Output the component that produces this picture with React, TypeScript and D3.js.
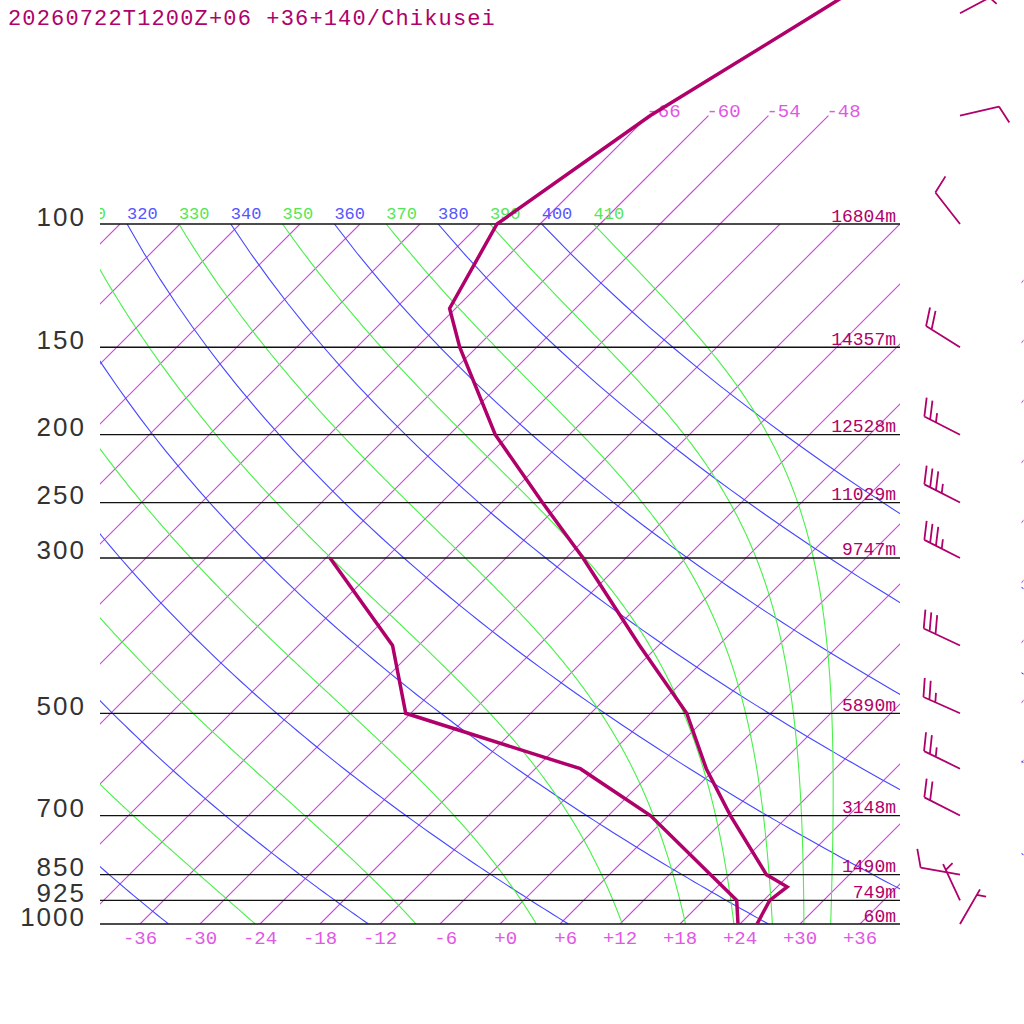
import React, { useEffect, useRef } from "react";
import * as d3 from "d3";

const title = "20260722T1200Z+06 +36+140/Chikusei";

// isobars and their geopotential heights
const isobars = [100, 150, 200, 250, 300, 500, 700, 850, 925, 1000];
const isobarHeights = [16804, 14357, 12528, 11029, 9747, 5890, 3148, 1490, 749, 60];

// temperature profile (hPa, degC)
const tempP = [1000, 925, 885, 850, 700, 600, 500, 400, 300, 250, 200, 150, 132, 100, 70, 50, 30];
const tempC = [25.7, 24.6, 25.0, 21.7, 12.2, 5.1, -2.4, -13.9, -28.3, -37.9, -49.4, -61.7, -66.6, -70.3, -65.8, -59.4, -50.0];

// dew point profile
const dewP = [1000, 925, 850, 700, 600, 500, 400, 300];
const dewC = [23.8, 21.3, 16.1, 4.2, -7.5, -30.5, -38.6, -53.6];

// wind (direction deg, speed kt)
const windP = [1000, 925, 850, 700, 600, 500, 400, 300, 250, 200, 150, 100, 70, 50];
const windDir = [30, 335, 280, 297, 296, 294, 295, 297, 297, 297, 302, 322, 77, 62];
const windKt = [5, 5, 10, 20, 25, 25, 30, 35, 35, 25, 20, 10, 10, 5];

// background lines
const isotherms = [-108, -102, -96, -90, -84, -78, -72, -66, -60, -54, -48, -42, -36, -30, -24, -18, -12, -6, 0, 6, 12, 18, 24, 30, 36];
const topIsotherms = [-66, -60, -54, -48];
const dryThetas = [240, 260, 280, 300, 320, 340, 360, 380, 400];
const moistThetas = [230, 250, 270, 290, 310, 330, 350, 370, 390, 410];
const tempTicks = [-36, -30, -24, -18, -12, -6, 0, 6, 12, 18, 24, 30, 36];

const C_PROF = "rgb(176,0,106)";
const C_ISO = "rgb(204,68,221)";
const C_ISO_TXT = "rgb(224,88,228)";
const C_DRY = "rgb(70,70,255)";
const C_MOIST = "rgb(72,240,72)";

const Rd = 287.04, Cp = 1005.7, Lv = 2.501e6, EPS = 0.622, KAPPA = Rd / Cp;

function satMix(p: number, tk: number) {
  const tc = tk - 273.15;
  const es = 6.112 * Math.exp((17.67 * tc) / (tc + 243.5));
  return (EPS * es) / (p - es);
}

function moistLapse(p: number, tk: number) {
  const rs = satMix(p, tk);
  return (Rd * tk + Lv * rs) / (p * (Cp + (Lv * Lv * rs * EPS) / (Rd * tk * tk)));
}

// pseudo-adiabat integrated down from 100 hPa
function moistCurve(thetaE: number) {
  let t = thetaE * Math.pow(0.1, KAPPA);
  let p = 100;
  const pts: [number, number][] = [[p, t - 273.15]];
  const dp = 2;
  while (p < 1000) {
    const k1 = moistLapse(p, t);
    const k2 = moistLapse(p + dp / 2, t + (dp / 2) * k1);
    const k3 = moistLapse(p + dp / 2, t + (dp / 2) * k2);
    const k4 = moistLapse(p + dp, t + dp * k3);
    t += (dp / 6) * (k1 + 2 * k2 + 2 * k3 + k4);
    p += dp;
    pts.push([p, t - 273.15]);
  }
  return pts;
}

const App: React.FC = () => {
  const ref = useRef<SVGSVGElement>(null);

  useEffect(() => {
    if (!ref.current) return;
    const svg = d3.select(ref.current);
    svg.selectAll("*").remove();

    const x = d3.scaleLinear().domain([-40, 40]).range([100, 900]);
    const y = d3.scaleLog().domain([100, 1000]).range([224, 924]);
    const skx = (t: number, p: number) => x(t) + (y(1000) - y(p));

    const defs = svg.append("defs");
    defs.append("clipPath").attr("id", "box")
      .append("rect").attr("x", 100).attr("y", 224).attr("width", 800).attr("height", 700);
    defs.append("clipPath").attr("id", "edge")
      .append("rect").attr("x", 1021.5).attr("y", 224).attr("width", 2).attr("height", 700);
    defs.append("clipPath").attr("id", "lab")
      .append("rect").attr("x", 100).attr("y", 190).attr("width", 800).attr("height", 34);

    const line = d3.line<[number, number]>().x((d) => skx(d[1], d[0])).y((d) => y(d[0]));
    const pLevels = d3.range(100, 1001, 10);

    const thin = (sel: d3.Selection<SVGPathElement, unknown, null, undefined>, color: string) =>
      sel.style("fill", "none").style("stroke", color).style("stroke-width", "1.1px");

    const drawGrid = (g: d3.Selection<SVGGElement, unknown, null, undefined>, moist: boolean) => {
      const iso = d3.path();
      isotherms.forEach((t) => {
        iso.moveTo(skx(t, 1000), y(1000));
        iso.lineTo(skx(t, 100), y(100));
      });
      thin(g.append("path").attr("d", iso.toString()), C_ISO);
      dryThetas.forEach((th) => {
        const pts = pLevels.map((p) => [p, th * Math.pow(p / 1000, KAPPA) - 273.15] as [number, number]);
        thin(g.append("path").attr("d", line(pts)), C_DRY);
      });
      if (moist) {
        moistThetas.forEach((th) => {
          thin(g.append("path").attr("d", line(moistCurve(th))), C_MOIST);
        });
      }
    };

    drawGrid(svg.append("g").attr("clip-path", "url(#box)"), true);
    drawGrid(svg.append("g").attr("clip-path", "url(#edge)"), false);

    // isotherms extended above 100 hPa with labels
    const topIso = d3.path();
    topIsotherms.forEach((t) => {
      topIso.moveTo(skx(t, 100), y(100));
      topIso.lineTo(skx(t, 70), y(70));
      svg.append("text")
        .attr("x", skx(t, 70) - 2).attr("y", y(70) + 1)
        .attr("font-family", "Liberation Mono").attr("font-size", 19)
        .attr("fill", C_ISO_TXT)
        .text(String(t));
    });
    thin(svg.append("path").attr("d", topIso.toString()), C_ISO);

    // theta labels along 100 hPa (clipped at the left edge)
    const labG = svg.append("g").attr("clip-path", "url(#lab)")
      .attr("font-family", "Liberation Mono").attr("font-size", 17);
    const thetaX = (th: number) => skx(th * Math.pow(0.1, KAPPA) - 273.15, 100);
    dryThetas.filter((th) => thetaX(th) > 60).forEach((th) => {
      labG.append("text")
        .attr("x", thetaX(th)).attr("y", 218.5)
        .attr("fill", "rgb(85,85,255)").text(String(th));
    });
    moistThetas.filter((th) => thetaX(th) > 60).forEach((th) => {
      labG.append("text")
        .attr("x", thetaX(th)).attr("y", 218.5)
        .attr("fill", "rgb(85,230,85)").text(String(th));
    });

    // isobars
    isobars.forEach((p, i) => {
      svg.append("line")
        .attr("x1", 100).attr("x2", 900).attr("y1", y(p)).attr("y2", y(p))
        .style("stroke", "#111").style("stroke-width", "1.3px");
      svg.append("text")
        .attr("x", 86).attr("y", y(p) + 1.5)
        .attr("text-anchor", "end")
        .attr("font-family", "Liberation Sans").attr("font-size", 26)
        .attr("letter-spacing", 2)
        .attr("fill", "#333")
        .text(String(p));
      svg.append("text")
        .attr("x", 896).attr("y", y(p) - 2.5)
        .attr("text-anchor", "end")
        .attr("font-family", "Liberation Mono").attr("font-size", 18)
        .attr("fill", C_PROF)
        .text(`${isobarHeights[i]}m`);
    });

    // temperature axis labels
    tempTicks.forEach((t) => {
      const s = (t < 0 ? "-" : "+") + Math.abs(t);
      svg.append("text")
        .attr("x", x(t)).attr("y", 944)
        .attr("text-anchor", "middle")
        .style("white-space", "pre")
        .attr("font-family", "Liberation Mono").attr("font-size", 19)
        .attr("fill", C_ISO_TXT)
        .text(s.padStart(3, " "));
    });

    // profiles
    const tPts = tempP.map((p, i) => [p, tempC[i]] as [number, number]);
    const dPts = dewP.map((p, i) => [p, dewC[i]] as [number, number]);
    [dPts, tPts].forEach((pts) => {
      svg.append("path").attr("d", line(pts))
        .style("fill", "none").style("stroke", C_PROF)
        .style("stroke-width", "3.5px").style("stroke-linejoin", "miter");
    });

    // wind barbs
    const bx = 960, staff = 40, gap = 6.5, full = 19;
    windP.forEach((p, i) => {
      const y0 = y(p);
      const a = (windDir[i] * Math.PI) / 180;
      const ux = Math.sin(a), uy = -Math.cos(a);
      const tx = bx + ux * staff, ty = y0 + uy * staff;
      const fa = Math.atan2(uy, ux) + (70 * Math.PI) / 180;
      const fx = Math.cos(fa), fy = Math.sin(fa);
      const path = d3.path();
      path.moveTo(bx, y0);
      path.lineTo(tx, ty);
      const kt = windKt[i];
      const nFull = Math.floor(kt / 10);
      const nHalf = Math.round((kt % 10) / 5);
      let pos = nFull === 0 ? gap : 0;
      for (let k = 0; k < nFull; k++) {
        const sx = tx - ux * pos, sy = ty - uy * pos;
        path.moveTo(sx, sy);
        path.lineTo(sx + fx * full, sy + fy * full);
        pos += gap;
      }
      for (let k = 0; k < nHalf; k++) {
        const sx = tx - ux * pos, sy = ty - uy * pos;
        path.moveTo(sx, sy);
        path.lineTo(sx + fx * full * 0.5, sy + fy * full * 0.5);
        pos += gap;
      }
      svg.append("path").attr("d", path.toString())
        .style("fill", "none").style("stroke", C_PROF).style("stroke-width", "1.8px");
    });

    // title
    svg.append("text")
      .attr("x", 8).attr("y", 25)
      .attr("font-family", "Liberation Mono").attr("font-size", 22)
      .attr("letter-spacing", 1.15)
      .attr("fill", C_PROF)
      .text(title);
  }, []);

  return (
    <svg
      ref={ref}
      width={1024}
      height={1024}
      style={{ position: "absolute", left: 0, top: 0, background: "#fff" }}
    />
  );
};

export default App;
